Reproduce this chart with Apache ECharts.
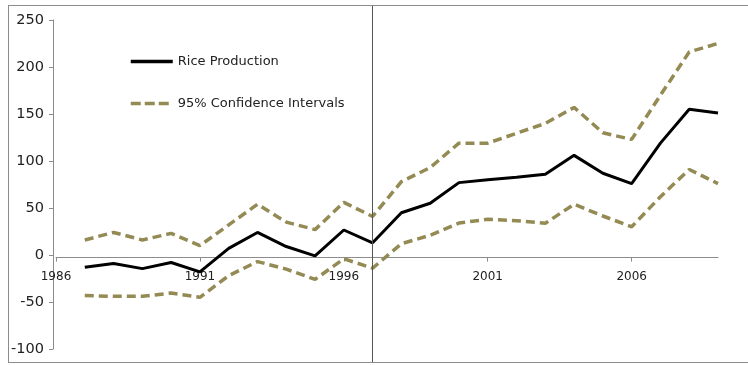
<!DOCTYPE html>
<html>
<head>
<meta charset="utf-8">
<script src="https://cdn.jsdelivr.net/npm/echarts@6/dist/echarts.min.js"></script>
<style>
  html, body { margin: 0; padding: 0; background: #fff; }
  #wrap { position: relative; width: 748px; height: 365px; overflow: hidden; }
  #chart { width: 748px; height: 365px; }
  #frame { position: absolute; left: 8px; top: 5px; width: 760px; height: 356px;
           border: 1px solid #8c8c8c; pointer-events: none; }
</style>
</head>
<body>
<div id="wrap">
  <div id="chart"></div>
  <div id="frame"></div>
</div>
<script>
const years = ['1986','1987','1988','1989','1990','1991','1992','1993','1994','1995','1996','1997',
               '1998','1999','2000','2001','2002','2003','2004','2005','2006','2007','2008','2009'];
const riceProduction = [null, -13, -9, -14.5, -8, -18, 7, 24, 9, -1, 26.6, 13,
                        45, 55, 77, 80, 82.6, 85.8, 106, 87, 76, 119, 155, 151];
const upperCI = [null, 16, 24, 16, 23, 10, 32, 54, 35, 27, 56, 41,
                 78, 93, 119, 119, 129.5, 140, 157, 130, 123, 170, 216, 225];
const lowerCI = [null, -43, -44, -44, -40.5, -45, -22, -7, -15, -26, -4, -14,
                 12, 21, 34, 38, 36.5, 33.7, 54, 41.5, 30, 62, 91, 76];
const dividerYear = '1997';
const yTicks = { min: -100, max: 250, interval: 50 };

const chart = echarts.init(document.getElementById('chart'), null, { renderer: 'canvas' });
const textFont = 'DejaVu Sans';
const ciColor = '#948A54';
const ciLine = { color: ciColor, width: 3.5, type: [9, 5] };
const riceLine = { color: '#000', width: 3 };
const hidden = 'rgba(0,0,0,0)';

chart.setOption({
  animation: false,
  backgroundColor: '#ffffff',
  grid: [
    { left: 56, right: 30, top: 20, bottom: 16, containLabel: false },
    { left: 56, right: 30, top: 6, bottom: 3, containLabel: false }
  ],
  legend: {
    data: [
      { name: 'Rice Production', lineStyle: { color: '#000', width: 3.5, type: 'solid' } },
      { name: '95% Confidence Intervals', lineStyle: { color: ciColor, width: 3.5, type: [10, 4] } }
    ],
    orient: 'vertical',
    left: 124,
    top: 50,
    itemWidth: 42,
    itemHeight: 14,
    itemGap: 29,
    itemStyle: { color: hidden, borderWidth: 0, borderColor: hidden },
    textStyle: { fontFamily: textFont, fontSize: 13, color: '#222' },
    selectedMode: false
  },
  xAxis: [
    {
      type: 'category',
      gridIndex: 0,
      data: years,
      boundaryGap: false,
      offset: 0,
      axisLine: { onZero: false, lineStyle: { color: '#8c8c8c', width: 1 } },
      axisTick: { show: true, interval: 4, length: 4, inside: false, lineStyle: { color: '#8c8c8c' } },
      axisLabel: { interval: 4, margin: 13, fontFamily: textFont, fontSize: 12, color: '#222' },
      splitLine: { show: false }
    },
    {
      type: 'category',
      gridIndex: 1,
      data: years,
      boundaryGap: false,
      show: false
    }
  ],
  yAxis: [
    {
      type: 'value',
      gridIndex: 0,
      min: yTicks.min,
      max: yTicks.max,
      interval: yTicks.interval,
      offset: 3,
      axisLine: { show: true, lineStyle: { color: '#8c8c8c', width: 1 } },
      axisTick: { show: true, length: 4, lineStyle: { color: '#8c8c8c' } },
      axisLabel: { margin: 9, fontFamily: textFont, fontSize: 14.5, color: '#222' },
      splitLine: { show: false }
    },
    {
      type: 'value',
      gridIndex: 1,
      min: 0,
      max: 1,
      show: false
    }
  ],
  series: [
    {
      name: 'divider',
      type: 'line',
      xAxisIndex: 1,
      yAxisIndex: 1,
      data: years.map(() => null),
      symbol: 'none',
      silent: true,
      markLine: {
        silent: true,
        symbol: 'none',
        label: { show: false },
        lineStyle: { color: '#555', width: 1, type: 'solid' },
        data: [{ xAxis: dividerYear }]
      }
    },
    {
      name: '95% Confidence Intervals',
      type: 'line',
      data: upperCI,
      symbol: 'none',
      lineStyle: ciLine,
      itemStyle: { color: hidden }
    },
    {
      name: '95% Confidence Intervals',
      type: 'line',
      data: lowerCI,
      symbol: 'none',
      lineStyle: ciLine,
      itemStyle: { color: hidden }
    },
    {
      name: 'Rice Production',
      type: 'line',
      data: riceProduction,
      symbol: 'none',
      lineStyle: riceLine,
      itemStyle: { color: hidden }
    }
  ]
});

// Move the category axis up to the zero line, using the value axis's own scale.
const zeroY = chart.convertToPixel({ yAxisIndex: 0 }, 0);
const minY = chart.convertToPixel({ yAxisIndex: 0 }, yTicks.min);
chart.setOption({ xAxis: [{ offset: zeroY - minY }, {}] });
</script>
</body>
</html>
